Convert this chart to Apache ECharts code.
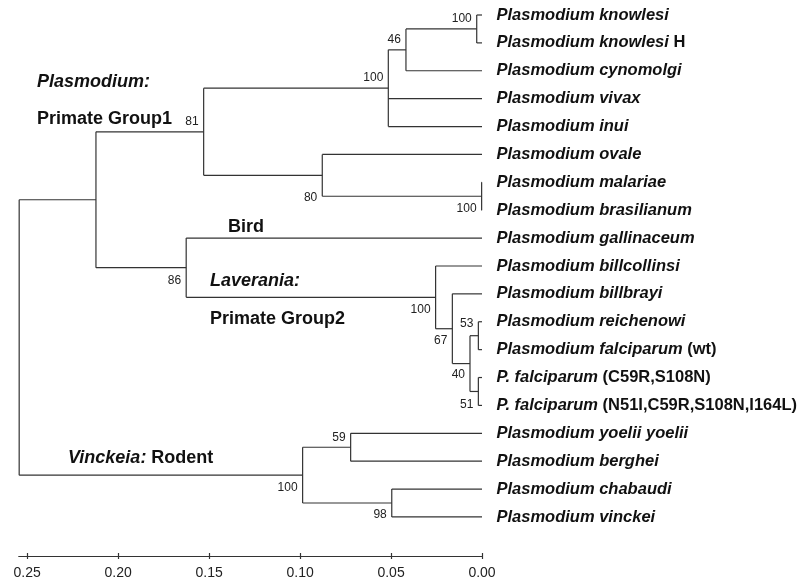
<!DOCTYPE html>
<html>
<head>
<meta charset="utf-8">
<script src="https://cdn.jsdelivr.net/npm/echarts@6/dist/echarts.min.js"></script>
<style>
    html, body { margin: 0; padding: 0; background: #fff; }
    #tree { width: 803px; height: 585px; }
</style>
</head>
<body>
<div id="tree"></div>
<script>
// 叶子名称：斜体部分 + 正体后缀
const leafItalic = ['Plasmodium knowlesi', 'Plasmodium knowlesi', 'Plasmodium cynomolgi', 'Plasmodium vivax',
    'Plasmodium inui', 'Plasmodium ovale', 'Plasmodium malariae', 'Plasmodium brasilianum',
    'Plasmodium gallinaceum', 'Plasmodium billcollinsi', 'Plasmodium billbrayi', 'Plasmodium reichenowi',
    'Plasmodium falciparum', 'P. falciparum', 'P. falciparum', 'Plasmodium yoelii yoelii',
    'Plasmodium berghei', 'Plasmodium chabaudi', 'Plasmodium vinckei']
const leafPlain = ['', 'H', '', '', '', '', '', '', '', '', '', '', '(wt)', '(C59R,S108N)',
    '(N51I,C59R,S108N,I164L)', '', '', '', '']

// 内部节点（子节点在前），L = 叶子，N = 节点
const nodeChildren = [
    ['L0', 'L1'], ['N0', 'L2'], ['N1', 'L3', 'L4'], ['L6', 'L7'], ['L5', 'N3'], ['N2', 'N4'],
    ['L11', 'L12'], ['L13', 'L14'], ['N6', 'N7'], ['L10', 'N8'], ['L9', 'N9'], ['L8', 'N10'],
    ['N5', 'N11'], ['L15', 'L16'], ['L17', 'L18'], ['N13', 'N14'], ['N12', 'N15']
]
const nodeHeights = [0.0029, 0.0418, 0.0515, 0.0002, 0.0878, 0.153, 0.002, 0.002, 0.0066, 0.0163,
    0.0255, 0.1626, 0.2122, 0.0722, 0.0496, 0.0986, 0.2544]
const nodeSupport = [100, 46, 100, 100, 80, 81, 53, 51, 40, 67, 100, 86, null, 59, 98, 100, null]
const tickValues = [0, 0.05, 0.1, 0.15, 0.2, 0.25]

// bootstrap数字相对节点的上下偏移(px)
const supportDy = [-10, -10, -11, 12, 22, -10, -12, 13, 11, 12, 12, 13, 0, -10, 12, 13, 0]

const FONT = '"Liberation Sans", Arial, Helvetica, sans-serif'
const LINE = { stroke: '#333', lineWidth: 1.2 }

// 节点纵坐标 = 最上和最下子节点的中点
const nodeY = []
function posOf(ref) {
    const i = +ref.slice(1)
    return ref[0] === 'L' ? [0, i] : [nodeHeights[i], nodeY[i]]
}
nodeChildren.forEach((ch, i) => {
    const ys = ch.map(c => posOf(c)[1])
    nodeY[i] = (Math.min(...ys) + Math.max(...ys)) / 2
})

function renderNode(params, api) {
    const i = params.dataIndex
    const p = api.coord([nodeHeights[i], nodeY[i]])
    const kids = nodeChildren[i].map(c => api.coord(posOf(c)))
    const ys = kids.map(k => k[1])
    const children = [{
        type: 'line',
        shape: { x1: p[0], y1: Math.min(...ys), x2: p[0], y2: Math.max(...ys) },
        style: LINE
    }]
    kids.forEach(k => {
        children.push({
            type: 'line',
            shape: { x1: p[0], y1: k[1], x2: k[0], y2: k[1] },
            style: LINE
        })
    })
    if (nodeSupport[i] != null) {
        children.push({
            type: 'text',
            x: p[0] - 5,
            y: p[1] + supportDy[i],
            style: {
                text: String(nodeSupport[i]),
                align: 'right',
                verticalAlign: 'middle',
                fontSize: 12,
                fontFamily: FONT,
                fill: '#222'
            }
        })
    }
    return { type: 'group', children: children }
}

const myChart = echarts.init(document.querySelector('#tree'))

const xAxisBase = {
    type: 'value',
    min: 0,
    max: 0.2545,
    inverse: true,
    position: 'bottom',
    splitLine: { show: false },
    axisLine: { onZero: false, lineStyle: { color: '#333', width: 1.2 } }
}

const option = {
    animation: false,
    grid: { left: 19, right: 321, top: 15, bottom: 29, outerBoundsMode: 'none' },
    xAxis: [
        Object.assign({}, xAxisBase, {
            axisTick: { length: 3, customValues: tickValues, lineStyle: { color: '#333', width: 1.2 } },
            axisLabel: {
                customValues: tickValues,
                margin: 10,
                fontSize: 14,
                fontFamily: FONT,
                color: '#222',
                formatter: v => v.toFixed(2)
            }
        }),
        Object.assign({}, xAxisBase, {
            axisTick: { inside: true, length: 3, customValues: tickValues, lineStyle: { color: '#333', width: 1.2 } },
            axisLabel: { show: false }
        })
    ],
    yAxis: { type: 'value', min: 0, max: 19.4, inverse: true, show: false },
    series: [
        {
            type: 'custom',
            renderItem: renderNode,
            clip: false,
            silent: true,
            encode: { x: 0, y: 1 },
            data: nodeHeights.map((h, i) => [h, nodeY[i]])
        },
        {
            type: 'scatter',
            silent: true,
            symbolSize: 1,
            itemStyle: { color: 'rgba(0,0,0,0)', opacity: 1 },
            label: {
                show: true,
                position: 'right',
                distance: 14,
                fontSize: 16.5,
                fontWeight: 'bold',
                fontFamily: FONT,
                color: '#111',
                formatter: p => '{it|' + leafItalic[p.dataIndex] + '}' +
                    (leafPlain[p.dataIndex] ? ' {up|' + leafPlain[p.dataIndex] + '}' : ''),
                rich: {
                    it: { fontSize: 16.5, fontWeight: 'bold', fontStyle: 'italic', fontFamily: FONT, color: '#111' },
                    up: { fontSize: 16.5, fontWeight: 'bold', fontFamily: FONT, color: '#111' }
                }
            },
            labelLayout: { hideOverlap: false },
            data: leafItalic.map((_, i) => [0, i])
        }
    ],
    graphic: [
        { type: 'text', x: 37, y: 82, style: { text: 'Plasmodium:', font: 'italic bold 18px ' + FONT, fill: '#111', verticalAlign: 'middle' } },
        { type: 'text', x: 37, y: 119, style: { text: 'Primate Group1', font: 'bold 18px ' + FONT, fill: '#111', verticalAlign: 'middle' } },
        { type: 'text', x: 228, y: 227, style: { text: 'Bird', font: 'bold 18px ' + FONT, fill: '#111', verticalAlign: 'middle' } },
        { type: 'text', x: 210, y: 281, style: { text: 'Laverania:', font: 'italic bold 18px ' + FONT, fill: '#111', verticalAlign: 'middle' } },
        { type: 'text', x: 210, y: 319, style: { text: 'Primate Group2', font: 'bold 18px ' + FONT, fill: '#111', verticalAlign: 'middle' } },
        {
            type: 'text', x: 68, y: 458,
            style: {
                text: '{a|Vinckeia:} {b|Rodent}',
                font: 'bold 18px ' + FONT,
                fill: '#111',
                verticalAlign: 'middle',
                rich: {
                    a: { fontStyle: 'italic', fontWeight: 'bold', fontSize: 18, fontFamily: FONT },
                    b: { fontWeight: 'bold', fontSize: 18, fontFamily: FONT }
                }
            }
        }
    ]
}

myChart.setOption(option)
</script>
</body>
</html>
